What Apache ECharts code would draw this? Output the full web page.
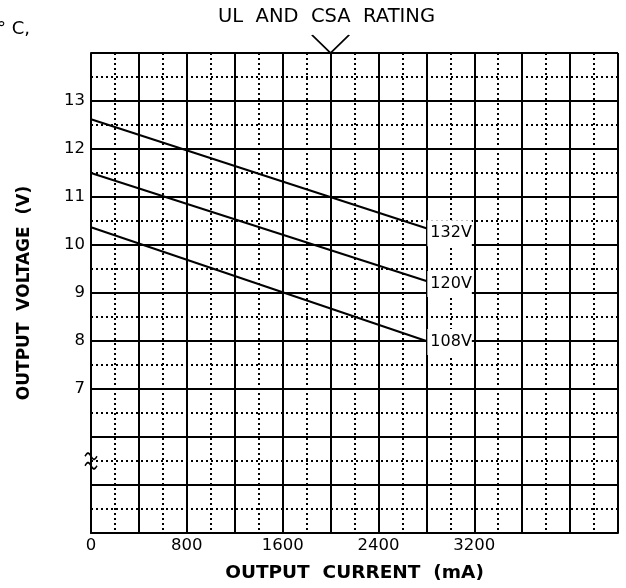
<!DOCTYPE html>
<html>
<head>
<meta charset="utf-8">
<script src="https://cdn.jsdelivr.net/npm/echarts@6/dist/echarts.min.js"></script>
<style>
  html, body { margin: 0; padding: 0; background: #fff; }
  #chart { width: 626px; height: 588px; }
</style>
</head>
<body>
<div id="chart"></div>
<script>
// output voltage vs output current, three line voltages
const currents = [0, 2800];
const v132 = [12.62, 10.35];
const v120 = [11.5, 9.25];
const v108 = [10.37, 8.0];
const seriesNames = ['132V', '120V', '108V'];
const xTickLabels = [0, 800, 1600, 2400, 3200];
const yTickLabels = [7, 8, 9, 10, 11, 12, 13];
const ratingCurrent = 2000;
const breakVoltage = 5.5;

const FONT = 'DejaVu Sans';
const chart = echarts.init(document.getElementById('chart'), null, { renderer: 'canvas' });

function pairs(ys) {
    return currents.map((x, i) => [x, ys[i]]);
}

const labelOffsets = [[0, 5], [0, 3], [0, 1]];

const series = [v132, v120, v108].map((ys, i) => ({
    name: seriesNames[i],
    type: 'line',
    data: pairs(ys),
    showSymbol: false,
    symbol: 'none',
    clip: false,
    animation: false,
    lineStyle: { color: '#000', width: 2 },
    endLabel: {
        show: true,
        formatter: seriesNames[i],
        color: '#000',
        fontFamily: FONT,
        fontSize: 16,
        backgroundColor: '#fff',
        padding: [5, 0, 5, 3],
        distance: 1,
        offset: labelOffsets[i]
    }
}));

// rating marker and axis break symbol
series[2].markPoint = {
    silent: true,
    animation: false,
    data: [
        {
            coord: [ratingCurrent, 14],
            symbol: 'path://M0,0L18.5,18L37,0',
            symbolSize: [37, 18],
            symbolOffset: [0, -9],
            itemStyle: { color: 'transparent', borderColor: '#000', borderWidth: 1.5 },
            label: {
                show: true,
                position: 'top',
                distance: 8,
                offset: [-4, 0],
                formatter: 'UL  AND  CSA  RATING',
                color: '#000',
                fontFamily: FONT,
                fontSize: 19.5
            }
        },
        {
            coord: [0, breakVoltage],
            symbol: 'path://M0,4C3,0 5,0 8,4C11,8 13,8 16,4M0,13C3,9 5,9 8,13C11,17 13,17 16,13',
            symbolSize: [12, 16],
            itemStyle: { color: 'transparent', borderColor: '#000', borderWidth: 1.7 },
            label: { show: false }
        }
    ]
};

const option = {
    backgroundColor: '#fff',
    animation: false,
    grid: { left: 91, right: 8, top: 53, bottom: 55 },
    graphic: [{
        type: 'text',
        left: -3,
        top: 20,
        style: { text: '° C,', fill: '#000', font: '18px "DejaVu Sans"' }
    }],
    xAxis: {
        type: 'value',
        min: 0,
        max: 4400,
        interval: 400,
        name: 'OUTPUT  CURRENT  (mA)',
        nameLocation: 'middle',
        nameGap: 31,
        nameTextStyle: { color: '#000', fontFamily: FONT, fontWeight: 'bold', fontSize: 18.5 },
        axisLine: { show: true, lineStyle: { color: '#000', width: 2 } },
        axisTick: { show: false },
        axisLabel: {
            color: '#000',
            fontFamily: FONT,
            fontSize: 16.5,
            margin: 4,
            formatter: v => xTickLabels.includes(v) ? String(v) : ''
        },
        splitLine: { show: true, lineStyle: { color: '#000', width: 2 } },
        minorTick: { show: false, splitNumber: 2 },
        minorSplitLine: { show: true, lineStyle: { color: '#000', width: 2, type: [2, 3] } }
    },
    yAxis: {
        type: 'value',
        min: 4,
        max: 14,
        interval: 1,
        name: 'OUTPUT  VOLTAGE  (V)',
        nameLocation: 'middle',
        nameGap: 58,
        nameRotate: 90,
        nameTextStyle: { color: '#000', fontFamily: FONT, fontWeight: 'bold', fontSize: 17 },
        axisLine: { show: true, lineStyle: { color: '#000', width: 2 } },
        axisTick: { show: false },
        axisLabel: {
            color: '#000',
            fontFamily: FONT,
            fontSize: 16.5,
            margin: 6,
            formatter: v => yTickLabels.includes(v) ? String(v) : ''
        },
        splitLine: { show: true, lineStyle: { color: '#000', width: 2 } },
        minorTick: { show: false, splitNumber: 2 },
        minorSplitLine: { show: true, lineStyle: { color: '#000', width: 2, type: [2, 3] } }
    },
    series: series
};

chart.setOption(option);
</script>
</body>
</html>
